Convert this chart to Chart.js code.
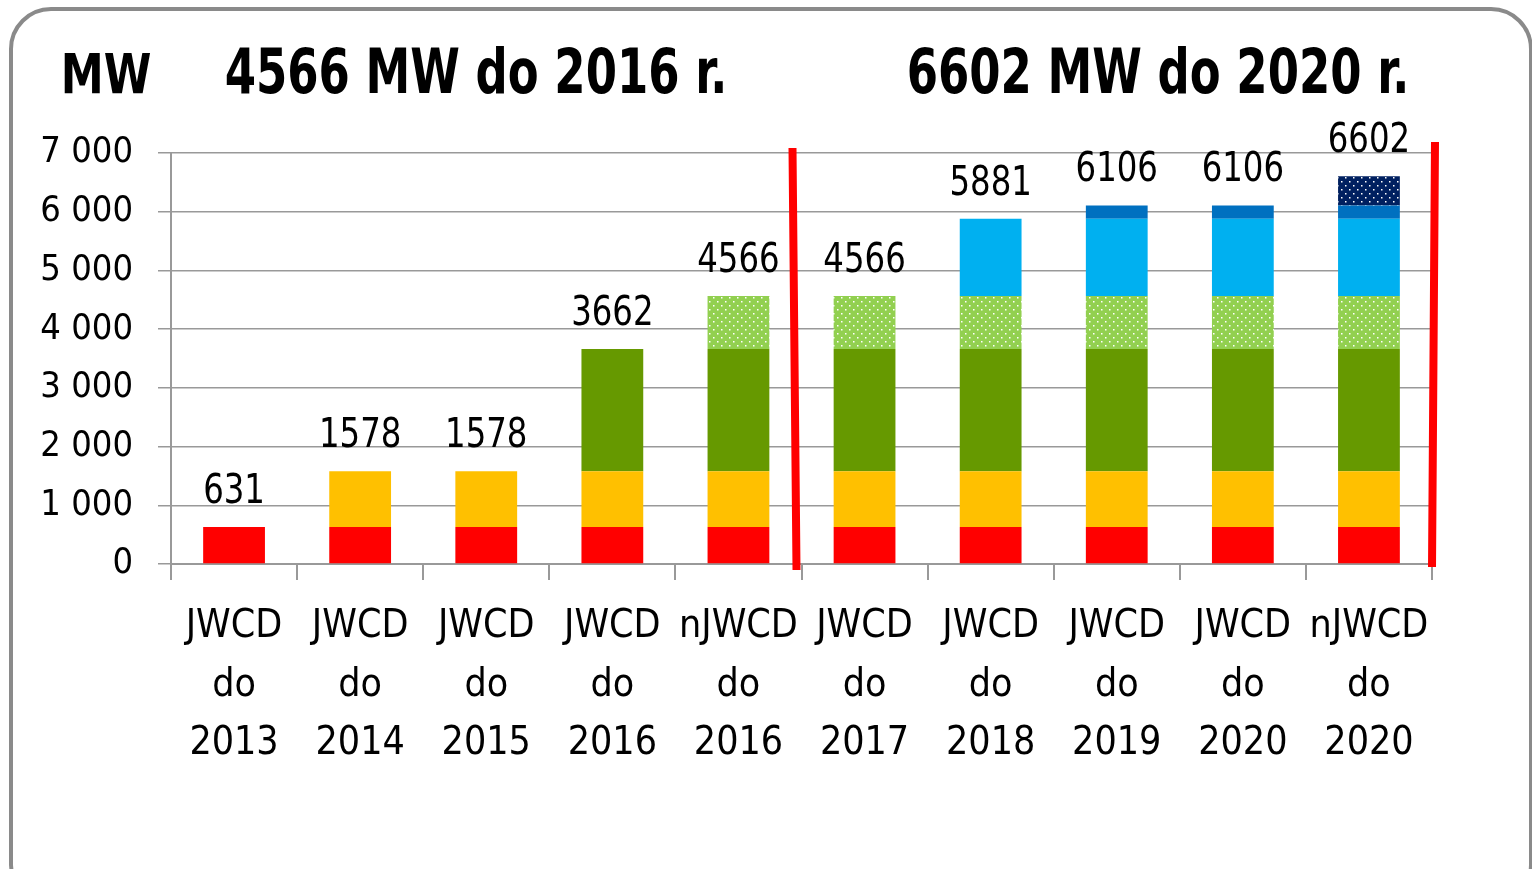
<!DOCTYPE html>
<html>
<head>
<meta charset="utf-8">
<script src="https://cdn.jsdelivr.net/npm/chart.js@4.4.1/dist/chart.umd.min.js"></script>
<style>
  html, body { margin: 0; padding: 0; background: #fff; overflow: hidden; }
  #card { position: absolute; left: 9px; top: 7px; width: 1524px; height: 900px;
          border: 4px solid #8a8a8a; border-radius: 42px; box-sizing: border-box; }
  #myChart { position: absolute; left: 0; top: 0; }
</style>
</head>
<body>
<div id="card"></div>
<canvas id="myChart" width="1532" height="869"></canvas>
<script>
'use strict'

let categories = [
    ['JWCD', 'do', '2013'], ['JWCD', 'do', '2014'], ['JWCD', 'do', '2015'],
    ['JWCD', 'do', '2016'], ['nJWCD', 'do', '2016'], ['JWCD', 'do', '2017'],
    ['JWCD', 'do', '2018'], ['JWCD', 'do', '2019'], ['JWCD', 'do', '2020'],
    ['nJWCD', 'do', '2020']];

// stacked parts, MW
let redPart = [631, 631, 631, 631, 631, 631, 631, 631, 631, 631];
let orangePart = [0, 947, 947, 947, 947, 947, 947, 947, 947, 947];
let greenPart = [0, 0, 0, 2084, 2084, 2084, 2084, 2084, 2084, 2084];
let lightGreenPart = [0, 0, 0, 0, 904, 904, 904, 904, 904, 904];
let cyanPart = [0, 0, 0, 0, 0, 0, 1315, 1315, 1315, 1315];
let bluePart = [0, 0, 0, 0, 0, 0, 0, 225, 225, 225];
let navyPart = [0, 0, 0, 0, 0, 0, 0, 0, 0, 496];

let yTickLabels = ['0', '1 000', '2 000', '3 000', '4 000', '5 000', '6 000', '7 000'];
let unitLabel = 'MW';
let titles = ['4566 MW do 2016 r.', '6602 MW do 2020 r.'];

let fontName = "'DejaVu Sans Condensed', 'DejaVu Sans', sans-serif";

function dots(color) {
    let c = document.createElement('canvas');
    c.width = 8;
    c.height = 8;
    let g = c.getContext('2d');
    g.fillStyle = color;
    g.fillRect(0, 0, 8, 8);
    g.fillStyle = '#ffffff';
    g.fillRect(1, 1, 1.5, 1.5);
    g.fillRect(5, 5, 1.5, 1.5);
    return g.createPattern(c, 'repeat');
}

function makeSet(data, color) {
    return {
        data: data,
        backgroundColor: color,
        borderWidth: 0,
        barPercentage: 0.49,
        categoryPercentage: 1
    };
}

// text stretched a bit taller, like the original picture
function tallText(ctx, text, x, y, sy) {
    ctx.save();
    ctx.translate(x, y);
    ctx.scale(1, sy);
    ctx.fillText(text, 0, 0);
    ctx.restore();
}

// totals above bars, titles, red split lines
let extras = {
    id: 'extras',
    afterDatasetsDraw(chart) {
        let ctx = chart.ctx;
        let x = chart.scales.x;
        let y = chart.scales.y;
        ctx.save();
        ctx.fillStyle = '#000';
        ctx.textAlign = 'center';
        ctx.textBaseline = 'alphabetic';
        ctx.font = '36px ' + fontName;
        for (let i = 0; i < categories.length; i++) {
            let total = 0;
            chart.data.datasets.forEach(ds => total += ds.data[i]);
            tallText(ctx, String(total), x.getPixelForValue(i), y.getPixelForValue(total) - 24, 1.15);
        }

        // titles
        ctx.font = 'bold 48px ' + fontName;
        tallText(ctx, unitLabel, 106, 93, 1.15);
        ctx.font = 'bold 50px ' + fontName;
        tallText(ctx, titles[0], 476, 93, 1.26);
        tallText(ctx, titles[1], 1158, 93, 1.26);

        // red lines
        let step = x.width / categories.length;
        let b1 = x.getPixelForValue(4) + step / 2;
        let b2 = x.right;
        ctx.strokeStyle = '#ff0000';
        ctx.lineWidth = 8;
        ctx.beginPath();
        ctx.moveTo(b1 - 9, y.top - 5);
        ctx.lineTo(b1 - 5, y.bottom + 6);
        ctx.moveTo(b2 + 3, y.top - 11);
        ctx.lineTo(b2, y.bottom + 3);
        ctx.stroke();
        ctx.restore();
    }
};

let ctx = document.getElementById('myChart').getContext('2d');
let myChart = new Chart(ctx, {
    type: 'bar',
    data: {
        labels: categories,
        datasets: [
            makeSet(redPart, '#ff0000'),
            makeSet(orangePart, '#ffc000'),
            makeSet(greenPart, '#669900'),
            makeSet(lightGreenPart, dots('#92d050')),
            makeSet(cyanPart, '#00b0f0'),
            makeSet(bluePart, '#0070c0'),
            makeSet(navyPart, dots('#002060'))
        ]
    },
    options: {
        responsive: false,
        animation: false,
        layout: { padding: { top: 153, right: 100, left: 0, bottom: 0 } },
        plugins: {
            legend: { display: false },
            tooltip: { enabled: false }
        },
        scales: {
            x: {
                stacked: true,
                grid: { offset: true, drawOnChartArea: false, color: '#999', lineWidth: 2, tickLength: 16 },
                border: { color: '#999', width: 2 },
                ticks: {
                    color: '#000',
                    padding: 18,
                    maxRotation: 0,
                    autoSkip: false,
                    font: { family: fontName, size: 39, lineHeight: 1.5 }
                },
                afterFit(s) { s.height = 305; }
            },
            y: {
                stacked: true,
                min: 0,
                max: 7000,
                grid: { color: '#999', lineWidth: 1.5, tickLength: 13 },
                border: { color: '#999', width: 2 },
                ticks: {
                    stepSize: 1000,
                    color: '#000',
                    padding: 25,
                    font: { family: fontName, size: 36 },
                    callback: (v, i) => yTickLabels[i]
                },
                afterFit(s) { s.width = 171; }
            }
        }
    },
    plugins: [extras]
});
</script>
</body>
</html>
